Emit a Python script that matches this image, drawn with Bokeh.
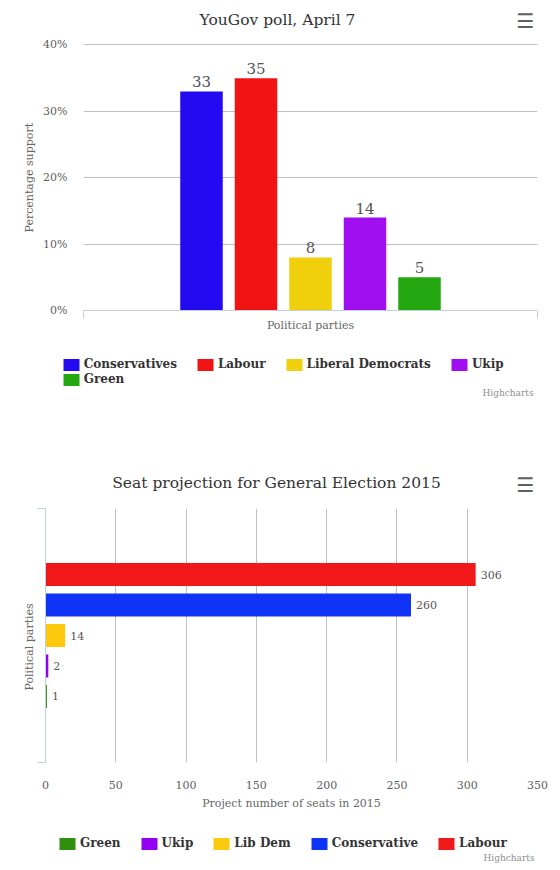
from bokeh.plotting import figure
from bokeh.models import (ColumnDataSource, Range1d, Legend, LegendItem,
                          Label, Title, FixedTicker, PrintfTickFormatter)
from bokeh.embed import file_html
from bokeh.resources import INLINE
from bokeh.core.properties import value

SERIF = "DejaVu Serif"
AXIS_BLUE = "#C0D0E0"

# YouGov poll, April 7
poll_parties = ["Conservatives", "Labour", "Liberal Democrats", "Ukip", "Green"]
poll_support = [33, 35, 8, 14, 5]
poll_colors = ["#230AF0", "#F01414", "#F0CF0C", "#A00FF0", "#23A812"]
poll_ticks = [0, 10, 20, 30, 40]

# Seat projection for General Election 2015
seat_parties = ["Green", "Ukip", "Lib Dem", "Conservative", "Labour"]
seat_counts = [1, 2, 14, 260, 306]
seat_colors = ["#2F8F0E", "#9400F2", "#FDC90F", "#1034F5", "#F01818"]
seat_ticks = [0, 50, 100, 150, 200, 250, 300, 350]

# the single category is split into one slot per series, with group padding at each end
GROUP_LO, GROUP_HI = -2.165, 6.165


def add_text(p, text, x, y, size, color, align="center", font=SERIF, style="normal"):
    # x, y: screen offsets from the frame's bottom-left corner
    p.add_layout(Label(x=x, y=y, x_units="screen", y_units="screen", text=text,
                       text_font=font, text_font_size=size, text_color=color,
                       text_font_style=style, text_align=align, text_baseline="middle"))


def make_legend(items, x, y):
    return Legend(items=items, location=(x, y), orientation="horizontal",
                  glyph_width=20, glyph_height=15, label_height=15, label_standoff=3,
                  spacing=18, padding=0, margin=0, border_line_color=None,
                  background_fill_alpha=0, label_text_font=SERIF,
                  label_text_font_style="bold", label_text_font_size="12px",
                  label_text_color="#333333")


def blank_strip(height):
    # a strip whose frame is the whole canvas, for legends and titles
    f = figure(width=560, height=height, x_range=Range1d(0, 1), y_range=Range1d(0, 1),
               x_axis_location=None, y_axis_location=None, output_backend="svg",
               toolbar_location=None, min_border=0)
    f.grid.visible = False
    f.outline_line_color = None
    return f


def axis_title(text, offset, standoff):
    return Title(text=text, align="left", offset=offset, standoff=standoff,
                 text_font=SERIF, text_font_size="11px", text_font_style="normal",
                 text_color="#666666")


def category_axis(ax):
    # a line with a tick at each end of the category, no labels
    ax.ticker = FixedTicker(ticks=[GROUP_LO, GROUP_HI])
    ax.axis_line_color = AXIS_BLUE
    ax.major_tick_line_color = AXIS_BLUE
    ax.major_tick_out = 8
    ax.major_tick_in = 0
    ax.minor_tick_line_color = None
    ax.major_label_text_font_size = "1px"
    ax.major_label_text_alpha = 0
    ax.major_label_standoff = 0


# ---- top chart: poll columns ----
poll_src = ColumnDataSource(data=dict(
    pos=list(range(len(poll_parties))), party=poll_parties, support=poll_support,
    color=poll_colors, label=[str(v) for v in poll_support]))

p1 = figure(width=560, height=350,
            x_range=Range1d(GROUP_LO, GROUP_HI), y_range=Range1d(0, 46.7),
            output_backend="svg", toolbar_location=None,
            min_border_left=83, min_border_right=23, min_border_top=0, min_border_bottom=40)
p1.outline_line_color = None

bars1 = p1.vbar(x="pos", top="support", width=0.78, color="color", line_color=None, source=poll_src)
p1.text(x="pos", y="support", text="label", source=poll_src, text_font=value(SERIF),
        text_font_size="15px", text_align="center", text_baseline="bottom",
        y_offset=-4, text_color="#555555")

p1.xgrid.visible = False
p1.ygrid.ticker = FixedTicker(ticks=poll_ticks)
p1.ygrid.grid_line_color = "#C0C0C0"

p1.yaxis.ticker = FixedTicker(ticks=poll_ticks)
p1.yaxis.formatter = PrintfTickFormatter(format="%d%%")
p1.yaxis.axis_line_color = None
p1.yaxis.major_tick_line_color = None
p1.yaxis.minor_tick_line_color = None
p1.yaxis.major_label_standoff = 10
p1.yaxis.major_label_text_font = SERIF
p1.yaxis.major_label_text_font_size = "11px"
p1.yaxis.major_label_text_color = "#606060"
p1.add_layout(axis_title("Percentage support", 78, 10), "left")

category_axis(p1.xaxis[0])
p1.xaxis.axis_label = "Political parties"
p1.xaxis.axis_label_standoff = 0
p1.xaxis.axis_label_text_font = SERIF
p1.xaxis.axis_label_text_font_size = "11px"
p1.xaxis.axis_label_text_font_style = "normal"
p1.xaxis.axis_label_text_color = "#666666"

add_text(p1, "YouGov poll, April 7", 194, 291, "15.5px", "#333333")
add_text(p1, "\u2630", 442, 289.5, "20px", "#606060", font="DejaVu Sans", style="bold")

# ---- strip between the charts: poll legend, credit, second title ----
mid = blank_strip(158)
keys1 = mid.vbar(x="pos", top="support", width=0.5, color="color", line_color=None,
                 source=poll_src, visible=False)
mid.add_layout(make_legend([LegendItem(label=poll_parties[i], renderers=[keys1], index=i)
                            for i in range(4)], 60.7, 136.5), "center")
mid.add_layout(make_legend([LegendItem(label=poll_parties[4], renderers=[keys1], index=4)],
                           60.7, 121.2), "center")
add_text(mid, "Highcharts", 533, 115.3, "9px", "#909090", align="right")
add_text(mid, "Seat projection for General Election 2015", 276, 25.3, "15.5px", "#333333")
add_text(mid, "\u2630", 525, 23.5, "20px", "#606060", font="DejaVu Sans", style="bold")

# ---- bottom chart: seat bars ----
seat_src = ColumnDataSource(data=dict(
    pos=list(range(len(seat_parties))), party=seat_parties, seats=seat_counts,
    color=seat_colors, label=[str(v) for v in seat_counts]))

p2 = figure(width=560, height=304,
            y_range=Range1d(GROUP_LO, GROUP_HI), x_range=Range1d(0, 350),
            output_backend="svg", toolbar_location=None,
            min_border_left=45, min_border_right=23, min_border_top=0, min_border_bottom=45)
p2.outline_line_color = None

bars2 = p2.hbar(y="pos", right="seats", height=0.755, color="color", line_color=None, source=seat_src)
p2.text(x="seats", y="pos", text="label", source=seat_src, text_font=value(SERIF),
        text_font_size="11px", text_align="left", text_baseline="middle",
        x_offset=5, text_color="#555555")

p2.ygrid.visible = False
p2.xgrid.ticker = FixedTicker(ticks=seat_ticks)
p2.xgrid.grid_line_color = "#C0C0C0"

p2.xaxis.ticker = FixedTicker(ticks=seat_ticks)
p2.xaxis.axis_line_color = None
p2.xaxis.major_tick_line_color = None
p2.xaxis.minor_tick_line_color = None
p2.xaxis.major_label_standoff = 12
p2.xaxis.major_label_text_font = SERIF
p2.xaxis.major_label_text_font_size = "11px"
p2.xaxis.major_label_text_color = "#606060"
p2.xaxis.axis_label = "Project number of seats in 2015"
p2.xaxis.axis_label_standoff = 5
p2.xaxis.axis_label_text_font = SERIF
p2.xaxis.axis_label_text_font_size = "11px"
p2.xaxis.axis_label_text_font_style = "normal"
p2.xaxis.axis_label_text_color = "#666666"

category_axis(p2.yaxis[0])
p2.add_layout(axis_title("Political parties", 72, 3), "left")

# ---- strip under the second chart: seat legend, credit ----
foot = blank_strip(58)
keys2 = foot.hbar(y="pos", right="seats", height=0.5, color="color", line_color=None,
                  source=seat_src, visible=False)
foot.add_layout(make_legend([LegendItem(label=seat_parties[i], renderers=[keys2], index=i)
                             for i in range(len(seat_parties))], 57, 19.2), "center")
add_text(foot, "Highcharts", 534, 13, "9px", "#909090", align="right")

# separate roots, stacked on the page, so their frames are not aligned to each other
open("out.html", "w").write(file_html([p1, mid, p2, foot], INLINE))
